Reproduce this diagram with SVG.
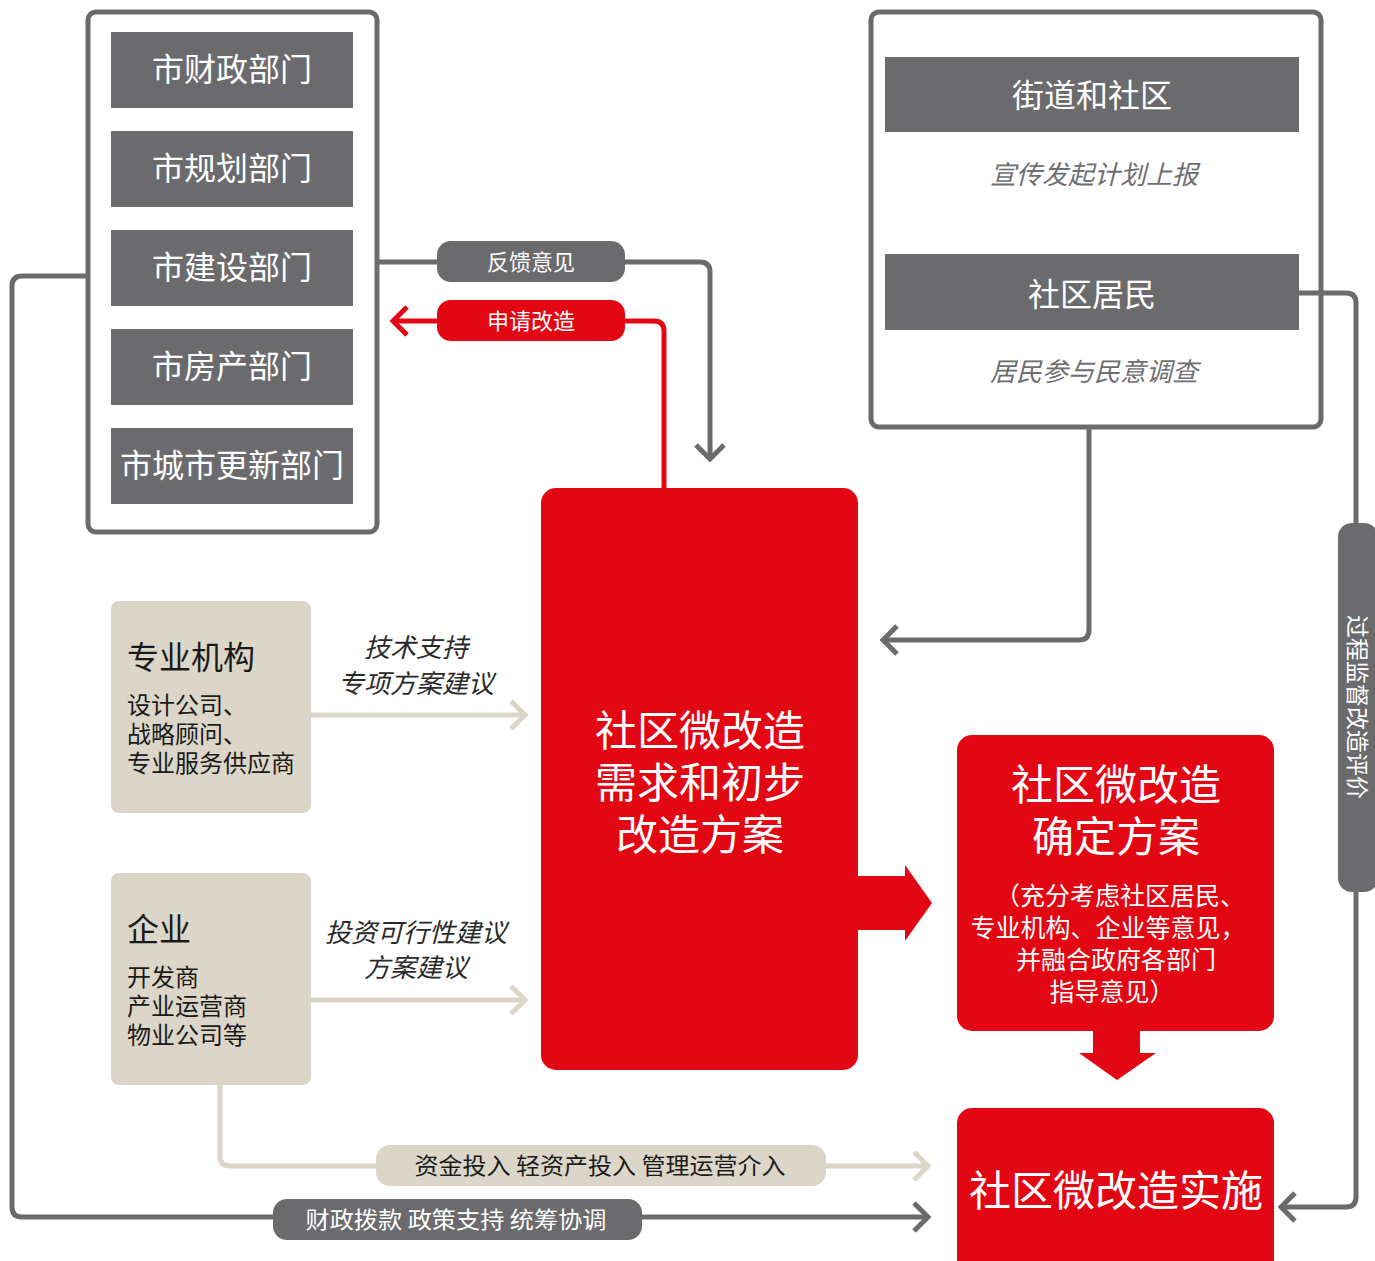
<svg xmlns="http://www.w3.org/2000/svg" width="1375" height="1261" viewBox="0 0 1375 1261">
<defs>
<style>
text{font-family:"Noto Sans CJK SC","Noto Sans",sans-serif;}
.frame{fill:#fff;stroke:#6b6a6d;stroke-width:5;}
.gbar{fill:#6b6a6d;}
.beige{fill:#dbd6c8;}
.red{fill:#e30613;}
.wt{fill:#fff;text-anchor:middle;}
.dept{font-size:32px;}
.it{font-style:italic;fill:#6f6e71;font-size:26px;text-anchor:middle;}
.lab{font-style:italic;fill:#2a2a2a;font-size:26px;text-anchor:middle;}
.bt{fill:#1a1a1a;}
.cg{fill:none;stroke:#6b6a6d;stroke-width:5;}
.cr{fill:none;stroke:#e30613;stroke-width:5;}
.cb{fill:none;stroke:#dbd6c8;stroke-width:5;}
</style>
<marker id="ag" markerUnits="userSpaceOnUse" viewBox="0 0 20 32" refX="17" refY="16" markerWidth="20" markerHeight="32" orient="auto"><path d="M3,2 L17,16 L3,30" fill="none" stroke="#6b6a6d" stroke-width="5"/></marker>
<marker id="ar" markerUnits="userSpaceOnUse" viewBox="0 0 20 32" refX="17" refY="16" markerWidth="20" markerHeight="32" orient="auto"><path d="M3,2 L17,16 L3,30" fill="none" stroke="#e30613" stroke-width="5"/></marker>
<marker id="ab" markerUnits="userSpaceOnUse" viewBox="0 0 20 32" refX="17" refY="16" markerWidth="20" markerHeight="32" orient="auto"><path d="M3,2 L17,16 L3,30" fill="none" stroke="#dbd6c8" stroke-width="5"/></marker>
</defs>

<g id="gov">
<rect class="frame" x="88" y="12" width="289" height="520" rx="8"/>
<g id="dept1"><rect class="gbar" x="111" y="32" width="242" height="76"/><text class="wt dept" x="232" y="81">市财政部门</text></g>
<g id="dept2"><rect class="gbar" x="111" y="131" width="242" height="76"/><text class="wt dept" x="232" y="180">市规划部门</text></g>
<g id="dept3"><rect class="gbar" x="111" y="230" width="242" height="76"/><text class="wt dept" x="232" y="279">市建设部门</text></g>
<g id="dept4"><rect class="gbar" x="111" y="329" width="242" height="76"/><text class="wt dept" x="232" y="378">市房产部门</text></g>
<g id="dept5"><rect class="gbar" x="111" y="428" width="242" height="76"/><text class="wt dept" x="232" y="477">市城市更新部门</text></g>
</g>

<g id="community">
<rect class="frame" x="871" y="12" width="450" height="415" rx="8"/>
<rect class="gbar" x="885" y="57" width="414" height="75"/>
<text class="wt" x="1092" y="107" font-size="32">街道和社区</text>
<text class="it" x="1094" y="184">宣传发起计划上报</text>
<rect class="gbar" x="885" y="254" width="414" height="76"/>
<text class="wt" x="1092" y="306" font-size="32">社区居民</text>
<text class="it" x="1094" y="381">居民参与民意调查</text>
</g>

<g id="pro">
<rect class="beige" x="111" y="601" width="200" height="212" rx="8"/>
<text class="bt" x="127" y="669" font-size="32">专业机构</text>
<text class="bt" x="127" y="714" font-size="24">设计公司、</text>
<text class="bt" x="127" y="743" font-size="24">战略顾问、</text>
<text class="bt" x="127" y="772" font-size="24">专业服务供应商</text>
</g>

<g id="ent">
<rect class="beige" x="111" y="873" width="200" height="212" rx="8"/>
<text class="bt" x="127" y="941" font-size="32">企业</text>
<text class="bt" x="127" y="986" font-size="24">开发商</text>
<text class="bt" x="127" y="1015" font-size="24">产业运营商</text>
<text class="bt" x="127" y="1044" font-size="24">物业公司等</text>
</g>

<g id="demand">
<rect class="red" x="541" y="488" width="317" height="582" rx="15"/>
<text class="wt" x="700" y="746" font-size="42">社区微改造</text>
<text class="wt" x="700" y="798" font-size="42">需求和初步</text>
<text class="wt" x="700" y="850" font-size="42">改造方案</text>
</g>

<g id="confirm">
<rect class="red" x="957" y="735" width="317" height="296" rx="15"/>
<text class="wt" x="1116" y="800" font-size="42">社区微改造</text>
<text class="wt" x="1116" y="852" font-size="42">确定方案</text>
<text class="wt" x="1120" y="905" font-size="25">（充分考虑社区居民、</text>
<text class="wt" x="1108" y="937" font-size="25">专业机构、企业等意见，</text>
<text class="wt" x="1116" y="969" font-size="25">并融合政府各部门</text>
<text class="wt" x="1112" y="1001" font-size="25">指导意见）</text>
</g>

<g id="implement">
<rect class="red" x="957" y="1108" width="317" height="170" rx="15"/>
<text class="wt" x="1116" y="1206" font-size="42">社区微改造实施</text>
</g>

<g id="connectors">
<path class="cg" d="M88,276 H22 Q12,276 12,286 V1207 Q12,1217 22,1217 H928" marker-end="url(#ag)"/>
<path class="cg" d="M379,262 H700 Q710,262 710,272 V459" marker-end="url(#ag)"/>
<path class="cr" d="M664,488 V331 Q664,321 654,321 H393" marker-end="url(#ar)"/>
<path class="cg" d="M1089,429 V630 Q1089,640 1079,640 H883" marker-end="url(#ag)"/>
<path class="cg" d="M1299,293 H1346 Q1356,293 1356,303 V1197 Q1356,1207 1346,1207 H1281" marker-end="url(#ag)"/>
<path class="cb" d="M311,715 H525" marker-end="url(#ab)"/>
<path class="cb" d="M311,1000 H525" marker-end="url(#ab)"/>
<path class="cb" d="M220,1085 V1156 Q220,1166 230,1166 H928" marker-end="url(#ab)"/>
<path class="red" d="M857,876 H905 V865 L932,903 L905,941 V930 H857 Z"/>
<path class="red" d="M1093,1030 H1140 V1053 H1156 L1117,1080 L1079,1053 H1093 Z"/>
</g>

<g id="labels">
<rect class="gbar" x="437" y="241" width="188" height="41" rx="14"/>
<text class="wt" x="531" y="270" font-size="22">反馈意见</text>
<rect class="red" x="437" y="300" width="188" height="41" rx="14"/>
<text class="wt" x="531" y="329" font-size="22">申请改造</text>
<rect class="beige" x="376" y="1145" width="450" height="41" rx="14"/>
<text x="600" y="1174" font-size="23" text-anchor="middle" class="bt" textLength="371" lengthAdjust="spacingAndGlyphs">资金投入  轻资产投入  管理运营介入</text>
<rect class="gbar" x="273" y="1199" width="369" height="41" rx="14"/>
<text class="wt" x="456" y="1228" font-size="23" textLength="301" lengthAdjust="spacingAndGlyphs">财政拨款  政策支持  统筹协调</text>
<rect class="gbar" x="1338" y="523" width="40" height="369" rx="14"/>
<text class="wt" font-size="23" transform="translate(1349,707) rotate(90)">过程监督改造评价</text>
<text class="lab" x="416" y="657">技术支持</text>
<text class="lab" x="416" y="693">专项方案建议</text>
<text class="lab" x="416" y="942">投资可行性建议</text>
<text class="lab" x="416" y="977">方案建议</text>
</g>
</svg>
